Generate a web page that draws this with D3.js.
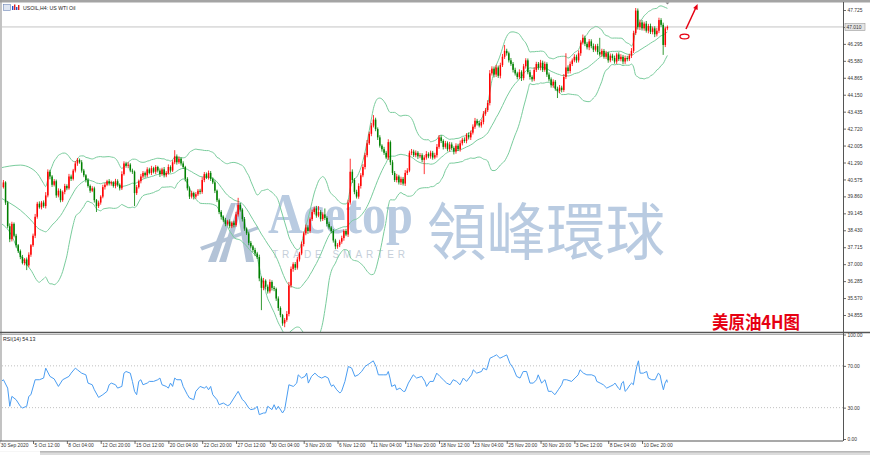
<!DOCTYPE html>
<html>
<head>
<meta charset="utf-8">
<script src="https://cdn.jsdelivr.net/npm/d3@7"></script>
<style>
  html, body { margin: 0; padding: 0; background: #fff; }
  svg { display: block; }
</style>
</head>
<body>
<script>
// ---- data ----
const firstOpen = 40.30;
const closes = [
  40.40,40.25,40.45,39.60,38.60,38.05,38.70,38.20,37.80,37.55,
  37.30,37.05,37.20,36.95,37.40,37.80,38.20,39.00,39.55,39.40,
  39.60,39.45,39.90,40.90,40.70,40.35,40.50,39.90,40.10,39.70,
  40.05,40.30,40.20,40.70,40.60,40.95,41.25,41.40,41.30,40.95,
  40.75,40.55,40.30,40.10,40.20,39.70,39.45,39.60,39.85,40.25,
  40.35,40.50,40.40,40.45,40.30,40.50,40.35,40.20,40.80,41.25,
  41.15,41.20,40.95,40.90,40.00,40.25,40.50,40.70,40.85,40.75,
  41.00,40.85,41.05,40.90,41.10,40.95,40.80,41.00,40.75,40.85,
  41.10,40.95,41.30,41.55,41.30,41.45,41.25,41.10,40.60,40.20,
  39.85,40.00,39.85,39.95,40.10,40.05,40.55,40.80,40.65,40.85,
  40.60,40.45,40.10,39.70,39.20,39.00,38.85,38.70,38.80,38.60,
  38.75,38.65,39.10,39.50,39.30,38.90,38.50,38.30,37.90,37.75,
  37.60,37.45,37.30,36.40,36.00,36.30,36.05,35.85,36.25,36.00,
  35.95,35.55,35.15,34.85,34.50,34.65,34.90,36.10,36.80,37.00,
  36.85,37.20,37.45,37.85,38.30,38.55,38.40,38.90,39.20,39.35,
  39.05,39.20,38.90,39.10,38.95,38.70,38.55,38.40,38.00,37.75,
  37.80,37.95,38.10,38.40,38.25,39.60,40.90,40.55,40.05,39.85,
  40.30,40.75,41.10,41.60,42.10,42.50,42.85,43.10,42.70,42.35,
  42.00,41.85,41.70,41.50,42.15,41.30,40.85,40.55,40.70,40.45,
  40.60,40.40,40.85,40.95,41.70,41.75,41.60,41.70,41.55,41.60,
  41.40,41.50,41.65,41.55,41.70,41.50,41.60,41.95,42.35,42.20,
  41.95,42.10,41.85,42.05,41.90,41.75,42.00,41.85,42.10,42.25,
  42.20,42.45,42.35,42.55,42.80,43.05,42.95,42.85,43.00,43.35,
  43.50,43.80,45.05,45.25,45.00,45.30,44.95,45.40,45.75,46.00,
  45.90,45.60,45.45,45.20,45.05,44.90,45.10,44.85,45.35,45.60,
  45.10,44.90,44.80,45.20,45.45,45.30,45.50,45.20,45.45,45.00,
  44.80,44.55,44.70,44.40,44.30,44.45,44.35,44.90,45.30,45.15,
  45.45,45.60,45.75,45.60,45.90,46.35,46.55,46.30,46.15,46.40,
  46.20,46.05,46.20,45.95,45.85,46.00,45.75,45.90,45.60,45.80,
  45.70,45.55,45.85,45.65,45.75,45.55,45.70,45.65,45.80,46.00,
  46.75,47.70,47.00,47.20,46.95,47.15,46.85,47.05,46.80,46.95,
  46.70,46.85,47.30,47.10,46.25,46.95,47.01
];
// wick lengths above / below the body, in cents
const wickUp = [
  8,6,10,5,7,12,9,6,8,5, 7,9,6,8,10,5,9,12,8,10, 7,9,14,10,8,6,9,7,10,8,
  6,9,7,11,8,7,10,8,6,9, 7,5,8,6,9,7,5,8,6,10, 8,6,9,7,5,10,8,6,12,9,
  7,10,6,8,5,9,7,11,8,6, 9,7,10,6,8,5,9,7,10,8, 11,7,9,26,8,10,6,9,5,7,
  8,10,6,9,7,8,12,9,7,10, 8,6,9,5,7,8,6,10,7,9, 6,8,11,30,8,6,9,5,7,8,
  6,9,7,10,8,12,6,9,11,7, 8,6,9,7,5,8,12,15,10,8, 9,11,7,10,8,12,9,7,10,8,
  11,25,8,9,25,7,9,6,8,7, 9,8,10,7,9,12,55,10,8,9, 11,9,12,10,14,9,11,19,8,7,
  9,6,10,8,12,7,9,8,11,7, 9,8,12,10,9,11,8,10,7,9, 8,10,12,7,9,8,10,12,10,9,
  7,10,8,11,9,7,10,8,12,9, 10,8,11,9,10,12,8,9,10,11, 9,12,14,10,9,11,8,10,12,25,
  9,7,10,8,9,7,12,8,10,9, 8,10,7,11,9,8,12,9,10,7, 9,8,10,7,9,11,8,12,60,9,
  10,8,11,9,12,10,14,9,8,10, 9,11,8,10,60,9,8,10,7,9, 8,10,7,9,11,8,10,9,8,12,
  10,11,9,12,10,8,11,9,10,8, 9,12,10,8,9,7,6
];
const wickDn = [
  7,9,6,10,8,12,9,7,10,8, 9,6,10,20,8,9,7,10,8,6, 9,7,10,8,12,9,7,10,8,9,
  7,10,8,6,9,7,8,10,6,9, 8,10,7,9,6,10,25,8,9,7, 10,6,8,9,7,10,8,9,7,6,
  8,10,7,9,55,8,6,9,7,10, 8,6,9,7,10,8,12,7,9,8, 7,9,6,8,10,7,9,8,11,9,
  10,8,12,9,7,10,8,9,6,8, 9,7,10,8,9,12,8,10,7,9, 8,10,7,9,8,10,9,7,10,8,
  9,11,8,12,94,10,12,9,8,11, 9,10,12,9,10,16,8,10,9,12, 10,8,9,7,10,8,12,9,8,10,
  9,7,10,8,9,11,8,10,9,12, 10,8,9,11,7,10,9,12,10,8, 9,11,8,10,9,7,10,8,9,11,
  8,10,9,7,10,12,9,8,10,9, 11,8,10,9,7,10,8,9,11,8, 10,60,9,8,10,9,7,10,8,9,
  11,8,9,10,8,12,9,8,10,9, 8,10,9,11,8,9,10,8,9,10, 9,8,10,9,12,10,9,11,8,9,
  10,9,8,11,9,10,8,12,9,10, 9,11,10,8,9,10,12,9,8,10, 9,10,11,8,29,9,10,8,9,11,
  10,9,8,10,9,11,8,10,9,12, 9,10,8,11,9,10,8,9,10,8, 11,9,10,8,9,12,10,9,8,10,
  9,8,10,12,9,10,8,11,9,10, 12,9,10,8,42,9,8
];

const timeLabels = ["30 Sep 2020","5 Oct 12:00","8 Oct 04:00","12 Oct 20:00","15 Oct 12:00",
  "20 Oct 04:00","22 Oct 20:00","27 Oct 12:00","30 Oct 04:00","3 Nov 20:00","6 Nov 12:00",
  "11 Nov 04:00","13 Nov 20:00","18 Nov 12:00","23 Nov 04:00","25 Nov 20:00","30 Nov 20:00",
  "3 Dec 12:00","8 Dec 04:00","10 Dec 20:00"];
const priceTicks = [47.725,47.010,46.295,45.580,44.865,44.150,43.435,42.720,42.005,41.290,
  40.575,39.860,39.145,38.430,37.715,37.000,36.285,35.570,34.855];
const rsiTicks = [100, 70, 30, 0];

// RSI(14) (bar position, value)
const rsiBar = [
  0,2,4,5,6,8,10,11,13,14, 15,17,19,21,22,24,26,28,30,33,
  34,36,37,39,41,42,44,45,47,49, 51,52,53,55,56,58,59,60,62,63,
  64,65,66,67,68,70,71,73,75,76, 77,79,80,81,82,83,84,86,87,89,
  90,92,93,95,97,98,99,100,101,103, 104,106,108,109,111,112,113,115,116,118,
  119,121,122,123,125,126,127,129,130,131, 132,134,135,137,139.1,140.7,141.4,143,144.6,145.4,
  146.2,147.7,149.3,150.9,152.5,154.1,155.6,156.4,157.2,158, 159.6,161.1,161.9,163.5,165.1,166.7,168.2,169.8,171.4,173,
  175.3,176.9,178.2,179.3,181.6,183.2,184,184.8,185.6,187.2, 187.9,189.5,191.1,191.9,193.5,195.8,197.4,199.8,201.3,202.1,
  203.7,205.3,206.9,208.4,210,211.6,213.2,214.7,216.3,217.9, 219.5,221,223.4,224.2,225.8,228.1,228.9,230.5,232.1,233.7,
  235.2,236.8,238.4,240,241.5,243.1,244.7,246.3,247.8,249.4, 251,252.6,254.1,254.9,256.5,258.1,259.7,261.2,262.8,264.4,
  266,266.8,268.3,270.7,272.3,273.8,274.7,276.3,277.9,280.2, 281.8,282.6,284.2,285.7,287.3,288.9,290.5,291.2,292.8,293.6,
  294.4,295.2,296,296.8,298.3,299.1,299.9,300.7,301.5,302.3, 303.1,304.6,306.2,307,308.6,310.2,311.7,312.5,313.3,314.1,
  314.9,315.7,316
];
const rsiVal = [
  53.5,56.7,48.7,31.3,40.8,37.6,31.3,29.7,31.3,40.8, 42.4,56.7,56.7,58.3,67.8,59.9,57.5,50.3,56.7,59.9,
  63.0,67.8,66.2,63.0,61.4,53.5,51.9,47.1,39.8,42.4, 45.6,51.9,53.5,51.9,48.7,50.3,63.0,64.6,63.0,55.1,
  45.6,42.4,55.1,56.7,51.9,53.5,55.1,55.1,56.7,58.3, 51.9,50.3,48.7,53.5,50.3,58.3,56.7,56.7,50.3,42.4,
  39.2,37.6,45.6,50.3,48.7,50.3,47.1,50.3,42.4,37.6, 32.8,34.4,31.9,32.8,39.2,42.4,45.6,37.6,36.0,29.7,
  28.1,29.0,31.3,23.3,24.9,24.9,31.3,28.1,32.8,28.1, 31.3,24.9,28.1,51.9,50.3,53.5,61.4,58.3,59.9,63.0,
  53.5,59.9,63.0,59.9,58.3,59.9,58.3,53.5,50.3,51.9, 47.1,44.0,45.6,55.1,69.4,67.8,59.9,61.4,64.6,69.4,
  72.5,74.8,69.4,61.4,61.4,61.4,64.6,58.3,50.3,51.9, 47.1,48.7,45.6,45.6,53.5,61.4,58.3,59.9,55.1,50.3,
  55.1,55.1,63.0,59.9,56.7,53.5,51.9,56.7,55.1,51.9, 58.3,55.1,61.4,66.2,63.0,64.6,67.8,66.2,77.3,78.9,
  80.5,77.3,78.9,80.5,72.5,67.8,59.9,58.3,64.6,64.6, 53.5,53.5,56.7,61.4,53.5,56.7,45.6,45.6,42.4,47.1,
  51.9,56.7,56.7,55.1,58.3,61.4,66.2,63.0,61.4,61.4, 59.9,55.1,53.5,51.9,48.7,50.3,51.9,53.5,48.7,47.1,
  53.5,55.1,45.6,47.1,51.9,53.5,51.9,61.4,69.4,74.8, 63.0,63.0,64.6,58.3,56.7,56.7,63.0,61.4,53.5,47.1,
  53.5,56.7,54.13
];

// Bollinger band values at the left edge (history before the first bar)
const bbLeadBar = [0, 5, 10, 15];
const bbLeadUpper = [41.05, 41.14, 41.18, 41.05];
const bbLeadMid = [39.83, 39.58, 39.28, 38.86];
const bbLeadLower = [38.77, 38.35, 37.38, 36.75];

// ---- layout ----
const W = 870, H = 455;
const axisX = 843;
const mainTop = 3, mainBottom = 332;
const rsiTop = 334, rsiBottom = 441;
const upColor = "#ff0000", downColor = "#008000";
const bbColor = "#79cc9c", rsiColor = "#4a9df2";
const wmColor = "#b9cbe1";
const axisFont = "'Liberation Sans', Arial, sans-serif";
const axisSize = 4.9;

const candles = closes.map((c, i) => {
  const o = i === 0 ? firstOpen : closes[i - 1];
  return {
    i, o, c,
    h: Math.max(o, c) + wickUp[i] / 100,
    l: Math.min(o, c) - wickDn[i] / 100
  };
});

// bollinger 20, 2 (population deviation, as the terminal does)
function bands(period, k) {
  const up = [], mid = [], lo = [];
  bbLeadBar.forEach((b, j) => {
    up.push([b, bbLeadUpper[j]]); mid.push([b, bbLeadMid[j]]); lo.push([b, bbLeadLower[j]]);
  });
  for (let i = period - 1; i < closes.length; i++) {
    const w = closes.slice(i - period + 1, i + 1);
    const m = d3.mean(w);
    const sd = Math.sqrt(d3.mean(w, v => (v - m) * (v - m)));
    up.push([i, m + k * sd]); mid.push([i, m]); lo.push([i, m - k * sd]);
  }
  return [up, mid, lo];
}

const xs = d3.scaleLinear().domain([0, closes.length - 1]).range([-0.8, -0.8 + 2.1146 * (closes.length - 1)]);
const ys = d3.scaleLinear().domain([34.855, 47.725]).range([315, 10]);
const yr = d3.scaleLinear().domain([0, 100]).range([439, 334.5]);

const svg = d3.select("body").append("svg")
  .attr("width", W).attr("height", H)
  .attr("viewBox", `0 0 ${W} ${H}`);

svg.append("rect").attr("width", W).attr("height", H).attr("fill", "#fff");

const defs = svg.append("defs");
defs.append("clipPath").attr("id", "clipMain").append("rect")
  .attr("x", 2).attr("y", mainTop).attr("width", axisX - 2).attr("height", mainBottom - mainTop);
defs.append("clipPath").attr("id", "clipRsi").append("rect")
  .attr("x", 2).attr("y", rsiTop).attr("width", axisX - 2).attr("height", rsiBottom - rsiTop);

// ---- watermark ----
const wm = svg.append("g").attr("clip-path", "url(#clipMain)");
const logo = [
  [[208,262],[216,262],[236,203],[231,203]],
  [[219,262],[226,262],[241,210],[238,206]],
  [[236,203],[241,203],[254,262],[246,262]],
  [[200,247],[258,226],[258,229.5],[202,250.5]]
];
wm.selectAll("polygon").data(logo).join("polygon")
  .attr("points", d => d.map(p => p.join(",")).join(" "))
  .attr("fill", "#b3c3d7");
wm.append("text").attr("x", 268).attr("y", 233)
  .attr("font-family", "'Liberation Serif', 'DejaVu Serif', serif").attr("font-size", 58)
  .attr("font-weight", 700)
  .attr("textLength", 145).attr("lengthAdjust", "spacingAndGlyphs")
  .attr("fill", wmColor).text("Acetop");
wm.append("text").attr("x", 272).attr("y", 258)
  .attr("font-family", "'Liberation Sans', Arial, sans-serif").attr("font-size", 10)
  .attr("textLength", 133).attr("lengthAdjust", "spacing")
  .attr("fill", "#c6cfda").text("TRADE SMARTER");
wm.append("text").attr("x", 427).attr("y", 255)
  .attr("font-family", "'Noto Sans CJK TC', 'Noto Sans CJK SC', sans-serif").attr("font-size", 62)
  .attr("textLength", 238).attr("lengthAdjust", "spacingAndGlyphs")
  .attr("fill", wmColor).text("領峰環球");

// ---- main panel ----
const main = svg.append("g").attr("clip-path", "url(#clipMain)");
const last = candles[candles.length - 1];
main.append("line")
  .attr("x1", 2).attr("x2", axisX).attr("y1", ys(last.c)).attr("y2", ys(last.c))
  .attr("stroke", "#c4c4c4").attr("stroke-width", 1);

const bandLine = d3.line().x(d => xs(d[0])).y(d => ys(d[1])).curve(d3.curveMonotoneX);
main.selectAll("path.bb").data(bands(20, 2)).join("path")
  .attr("class", "bb").attr("d", bandLine)
  .attr("fill", "none").attr("stroke", bbColor).attr("stroke-width", 1);

const cg = main.selectAll("g.c").data(candles).join("g").attr("class", "c");
cg.append("line")
  .attr("x1", d => xs(d.i)).attr("x2", d => xs(d.i))
  .attr("y1", d => ys(d.h)).attr("y2", d => ys(d.l))
  .attr("stroke", d => d.c >= d.o ? upColor : downColor).attr("stroke-width", 0.8);
cg.append("rect")
  .attr("x", d => xs(d.i) - 0.75).attr("width", 1.5)
  .attr("y", d => ys(Math.max(d.o, d.c)))
  .attr("height", d => Math.max(0.8, Math.abs(ys(d.o) - ys(d.c))))
  .attr("fill", d => d.c >= d.o ? upColor : downColor);

// annotations
svg.append("text").attr("x", 800).attr("y", 329).attr("text-anchor", "end")
  .attr("font-family", "'Noto Sans CJK SC', sans-serif").attr("font-weight", 700)
  .attr("font-size", 18).attr("textLength", 88).attr("lengthAdjust", "spacingAndGlyphs")
  .attr("fill", "#e60012").text("美原油4H图");
svg.append("ellipse").attr("cx", 684.5).attr("cy", 36.5).attr("rx", 4.5).attr("ry", 2.4)
  .attr("fill", "none").attr("stroke", "#e60012").attr("stroke-width", 1.3);
svg.append("line").attr("x1", 686).attr("y1", 29).attr("x2", 695.6).attr("y2", 8.2)
  .attr("stroke", "#e60012").attr("stroke-width", 1.5);
svg.append("polygon").attr("points", "697.6,4 697.6,10 693.2,7.9").attr("fill", "#e60012");

// title
svg.append("rect").attr("x", 3.5).attr("y", 4.5).attr("width", 7).attr("height", 6)
  .attr("fill", "#dfe6f2").attr("stroke", "#6d86b8").attr("stroke-width", 0.6);
[[12, 6, 4], [14, 4.5, 5.5], [16, 7, 3], [18, 5, 5]].forEach(([x, y, h], j) => {
  svg.append("rect").attr("x", x).attr("y", y).attr("width", 1.4).attr("height", h)
    .attr("fill", j % 2 ? "#d22" : "#2450c8");
});
svg.append("text").attr("x", 23).attr("y", 9.5)
  .attr("font-family", axisFont).attr("font-size", 5.2).attr("fill", "#222")
  .text("USOIL,H4:  US WTI Oil");

// ---- RSI panel ----
const rsi = svg.append("g").attr("clip-path", "url(#clipRsi)");
[70, 30].forEach(v => {
  rsi.append("line").attr("x1", 2).attr("x2", axisX).attr("y1", yr(v)).attr("y2", yr(v))
    .attr("stroke", "#b0b0b0").attr("stroke-width", 0.8).attr("stroke-dasharray", "1,2");
});
rsi.append("path")
  .datum(rsiBar.map((b, j) => [b, rsiVal[j]]))
  .attr("d", d3.line().x(d => xs(d[0])).y(d => yr(d[1])))
  .attr("fill", "none").attr("stroke", rsiColor).attr("stroke-width", 1);
svg.append("text").attr("x", 3).attr("y", 341)
  .attr("font-family", axisFont).attr("font-size", 5.2).attr("fill", "#222")
  .text("RSI(14) 54.13");

// ---- frames ----
svg.append("rect").attr("x", 0).attr("y", 0).attr("width", W).attr("height", 2.5).attr("fill", "#a4a4a4");
svg.append("line").attr("x1", 1).attr("x2", 1).attr("y1", 0).attr("y2", rsiBottom)
  .attr("stroke", "#9a9a9a").attr("stroke-width", 1.2);
svg.append("line").attr("x1", 0).attr("x2", W).attr("y1", mainBottom + 0.5).attr("y2", mainBottom + 0.5)
  .attr("stroke", "#555").attr("stroke-width", 1.6);
svg.append("line").attr("x1", 0).attr("x2", axisX).attr("y1", rsiTop + 0.5).attr("y2", rsiTop + 0.5)
  .attr("stroke", "#999").attr("stroke-width", 0.8);
svg.append("line").attr("x1", 0).attr("x2", axisX).attr("y1", rsiBottom).attr("y2", rsiBottom)
  .attr("stroke", "#555").attr("stroke-width", 1.2);
svg.append("line").attr("x1", axisX + 0.5).attr("x2", axisX + 0.5).attr("y1", 2).attr("y2", rsiBottom)
  .attr("stroke", "#555").attr("stroke-width", 1);
svg.append("polygon").attr("points", `${xs(last.i) - 2},2.5 ${xs(last.i) + 2},2.5 ${xs(last.i)},4.5`)
  .attr("fill", "#888");

// ---- axes ----
function styleAxis(g) {
  g.select(".domain").remove();
  g.attr("font-family", axisFont).attr("font-size", axisSize);
  g.selectAll(".tick line").attr("stroke", "#444").attr("stroke-width", 0.8);
  g.selectAll(".tick text").attr("fill", "#333");
}
svg.append("g").attr("transform", `translate(${axisX + 0.5},0)`)
  .call(d3.axisRight(ys).tickValues(priceTicks).tickSize(2.5).tickPadding(1.5).tickFormat(d3.format(".3f")))
  .call(styleAxis);
svg.append("g").attr("transform", `translate(${axisX + 0.5},0)`)
  .call(d3.axisRight(yr).tickValues(rsiTicks).tickSize(2.5).tickPadding(1.5).tickFormat(d3.format(".2f")))
  .call(styleAxis);
const xAxis = svg.append("g").attr("transform", `translate(0,${rsiBottom})`)
  .call(d3.axisBottom(xs).tickValues(d3.range(0, closes.length - 12, 16)).tickSize(3)
    .tickFormat((d, i) => timeLabels[i]))
  .call(styleAxis);
xAxis.selectAll(".tick text").attr("text-anchor", "start").attr("x", 1).attr("y", 2.2);

// current price box
const by = ys(last.c);
svg.append("rect").attr("x", axisX + 2).attr("y", by - 3.5).attr("width", 20).attr("height", 7)
  .attr("fill", "#e4e4e4").attr("stroke", "#9a9a9a").attr("stroke-width", 0.6);
svg.append("text").attr("x", axisX + 3.5).attr("y", by + 1.8)
  .attr("font-family", axisFont).attr("font-size", axisSize).attr("fill", "#333")
  .text(d3.format(".3f")(last.c));

// terminal tab strip
svg.append("rect").attr("x", 0).attr("y", 451.5).attr("width", W).attr("height", 3.5).attr("fill", "#dcdcdc");
svg.append("line").attr("x1", 40).attr("x2", W).attr("y1", 451.8).attr("y2", 451.8).attr("stroke", "#8c8c8c").attr("stroke-width", 0.8);
svg.append("rect").attr("x", 0).attr("y", 451.5).attr("width", 40).attr("height", 3.5).attr("fill", "#fff");
</script>
</body>
</html>
